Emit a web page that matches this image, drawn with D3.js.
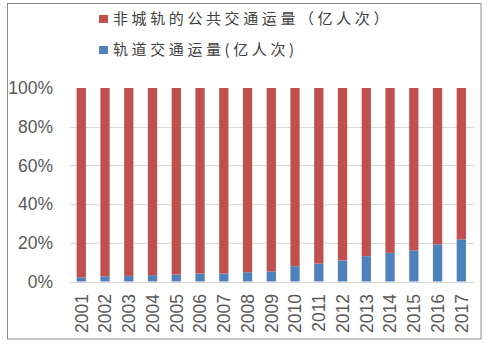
<!DOCTYPE html>
<html>
<head>
<meta charset="utf-8">
<script src="https://cdn.jsdelivr.net/npm/d3@7/dist/d3.min.js"></script>
<style>
  html, body { margin: 0; padding: 0; background: #fff; }
  svg { display: block; }
</style>
</head>
<body>
<svg id="chart" width="492" height="346"></svg>
<script>
// Years on the category axis
const years = ["2001","2002","2003","2004","2005","2006","2007","2008","2009",
               "2010","2011","2012","2013","2014","2015","2016","2017"];
// Share of urban public transport volume, percent
const railShare    = [2.1, 2.7, 2.9, 3.3, 3.6, 4.1, 4.1, 4.8, 5.2, 7.9, 9.3, 10.9, 13.1, 14.8, 16.1, 19.2, 21.8];
const nonRailShare = [97.9, 97.3, 97.1, 96.7, 96.4, 95.9, 95.9, 95.2, 94.8, 92.1, 90.7, 89.1, 86.9, 85.2, 83.9, 80.8, 78.2];
// Legend / series names
const seriesNames = ["非城轨的公共交通运量（亿人次）", "轨道交通运量(亿人次)"];
const yTicks = [0, 0.2, 0.4, 0.6, 0.8, 1];

const colors = { rail: "#4F81BD", nonRail: "#C0504D" };

const rows = years.map((y, i) => ({ year: y, rail: railShare[i], nonRail: nonRailShare[i] }));
const stacked = d3.stack().keys(["rail", "nonRail"]).offset(d3.stackOffsetExpand)(rows);

const svg = d3.select("#chart");

// outer frame
svg.append("rect")
  .attr("x", 7.5).attr("y", 3.5).attr("width", 473.5).attr("height", 335.5)
  .attr("fill", "#fff").attr("stroke", "#8c8c8c").attr("stroke-width", 1);

const x = d3.scaleBand().domain(years).range([69.4, 473.2])
  .paddingInner(0.61).paddingOuter(0.305);
const y = d3.scaleLinear().domain([0, 1]).range([281.5, 88]);

// gridlines (no line at the 100% level)
svg.append("g").selectAll("line")
  .data(yTicks.filter(t => t < 1))
  .join("line")
  .attr("x1", 70).attr("x2", 474)
  .attr("y1", d => Math.round(y(d)) + 0.5).attr("y2", d => Math.round(y(d)) + 0.5)
  .attr("stroke", "#d9d9d9").attr("stroke-width", 1);

// stacked bars
svg.append("g").selectAll("g")
  .data(stacked)
  .join("g")
  .attr("fill", d => colors[d.key])
  .selectAll("rect")
  .data(d => d)
  .join("rect")
  .attr("x", d => x(d.data.year))
  .attr("width", x.bandwidth())
  .attr("y", d => y(d[1]))
  .attr("height", d => y(d[0]) - y(d[1]));

// y axis labels
const yAxis = d3.axisLeft(y).tickValues(yTicks).tickFormat(d3.format(".0%"))
  .tickSize(0).tickPadding(0);
svg.append("g")
  .attr("transform", "translate(53,0)")
  .call(yAxis)
  .call(g => g.select(".domain").remove())
  .call(g => g.selectAll("text")
    .attr("fill", "#595959")
    .attr("font-family", "'Liberation Sans', Arial, sans-serif")
    .attr("font-size", "17.5px"));

// x axis labels, rotated
const xAxis = d3.axisBottom(x).tickSize(0).tickPadding(0);
svg.append("g")
  .attr("transform", "translate(0,294)")
  .call(xAxis)
  .call(g => g.select(".domain").remove())
  .call(g => g.selectAll("text")
    .attr("fill", "#595959")
    .attr("font-family", "'Liberation Sans', Arial, sans-serif")
    .attr("font-size", "17.5px")
    .attr("text-anchor", "end")
    .attr("transform", "rotate(-90)")
    .attr("x", 0).attr("y", 0).attr("dy", "0.36em"));

// legend
const legend = svg.append("g").attr("transform", "translate(99,0)");
const legendItems = [
  { name: seriesNames[0], color: colors.nonRail, cy: 19 },
  { name: seriesNames[1], color: colors.rail, cy: 50 }
];
const li = legend.selectAll("g").data(legendItems).join("g")
  .attr("transform", d => `translate(0,${d.cy})`);
li.append("rect").attr("x", 0).attr("y", -4).attr("width", 9).attr("height", 8)
  .attr("fill", d => d.color);
li.append("text")
  .attr("x", 14).attr("y", 0).attr("dy", "0.36em")
  .attr("font-family", "'Noto Sans CJK SC', sans-serif")
  .attr("font-size", "15px")
  .attr("letter-spacing", "3.6px")
  .attr("fill", "#404040")
  .text(d => d.name);
</script>
</body>
</html>
